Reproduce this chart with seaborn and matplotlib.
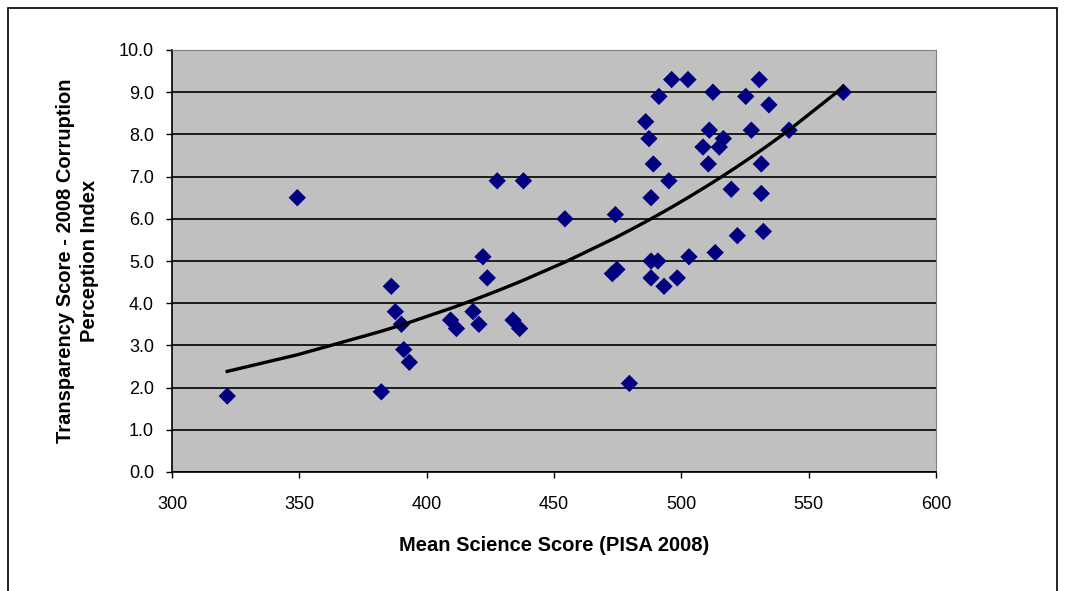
import numpy as np
import pandas as pd
import seaborn as sns
import matplotlib.pyplot as plt
from matplotlib.patches import Rectangle

# Mean science score (PISA) and 2008 corruption perception index
science = [321.7, 349.2, 382.2, 386.1, 387.7, 390.1, 391.0, 393.2, 409.4, 411.7,
           418.2, 420.5, 422.1, 423.8, 427.7, 433.9, 436.5, 438.0, 454.3, 472.9,
           474.7, 474.1, 479.6, 486.0, 487.3, 489.0, 495.1, 488.1, 491.2, 496.2,
           502.6, 488.1, 490.8, 488.1, 493.2, 498.4, 503.0, 512.4, 513.3, 511.0,
           508.5, 510.6, 514.9, 516.5, 519.6, 522.0, 525.3, 527.5, 530.6, 531.4,
           531.4, 532.2, 534.4, 542.3, 563.6]
cpi = [1.8, 6.5, 1.9, 4.4, 3.8, 3.5, 2.9, 2.6, 3.6, 3.4,
       3.8, 3.5, 5.1, 4.6, 6.9, 3.6, 3.4, 6.9, 6.0, 4.7,
       4.8, 6.1, 2.1, 8.3, 7.9, 7.3, 6.9, 6.5, 8.9, 9.3,
       9.3, 5.0, 5.0, 4.6, 4.4, 4.6, 5.1, 9.0, 5.2, 8.1,
       7.7, 7.3, 7.7, 7.9, 6.7, 5.6, 8.9, 8.1, 9.3, 7.3,
       6.6, 5.7, 8.7, 8.1, 9.0]

df = pd.DataFrame({'science': science, 'cpi': cpi})

# exponential trendline like Excel: ln(y) = ln(a) + b*x
b, ln_a = np.polyfit(df['science'], np.log(df['cpi']), 1)
df['trend'] = np.exp(ln_a + b * df['science'])

plt.rcParams['font.family'] = ['Liberation Sans', 'DejaVu Sans']

fig = plt.figure(figsize=(10.65, 5.91), dpi=100)
ax = fig.add_axes([172 / 1065, 1 - 472 / 591, (936 - 172) / 1065, (472 - 50) / 591])
ax.set_facecolor('#c0c0c0')

sns.scatterplot(data=df, x='science', y='cpi', marker='D', color='#000080',
                edgecolor='none', s=78, ax=ax, zorder=3)
sns.lineplot(data=df, x='science', y='trend', color='black', linewidth=2.4,
             ax=ax, zorder=4)

ax.set_xlim(300, 600)
ax.set_ylim(0, 10)
ax.set_xticks(range(300, 601, 50))
ax.set_yticks(np.arange(0, 10.01, 1))
ax.set_yticklabels([f'{v:.1f}' for v in np.arange(0, 10.01, 1)])
ax.grid(axis='y', color='black', linewidth=1.2)
ax.set_axisbelow(True)
ax.tick_params(axis='both', direction='out', length=4, width=1, labelsize=13,
               colors='black')
ax.tick_params(axis='x', pad=13)
ax.tick_params(axis='y', pad=9)

for side in ['top', 'right']:
    ax.spines[side].set_color('#808080')
for side in ['left', 'bottom']:
    ax.spines[side].set_color('black')
    ax.spines[side].set_linewidth(1.2)

ax.set_xlabel('Mean Science Score (PISA 2008)', fontsize=14.5, fontweight='bold',
              labelpad=17)
ax.set_ylabel('Transparency Score - 2008 Corruption\nPerception Index',
              fontsize=14.5, fontweight='bold', labelpad=14, linespacing=1.35)

# outer chart border
fig.patches.append(Rectangle((8 / 1065, -0.02), 1049 / 1065, 1 - 8 / 591 + 0.02,
                             transform=fig.transFigure, fill=False,
                             edgecolor='black', linewidth=1.2))

fig.savefig('out.png', dpi=100)
